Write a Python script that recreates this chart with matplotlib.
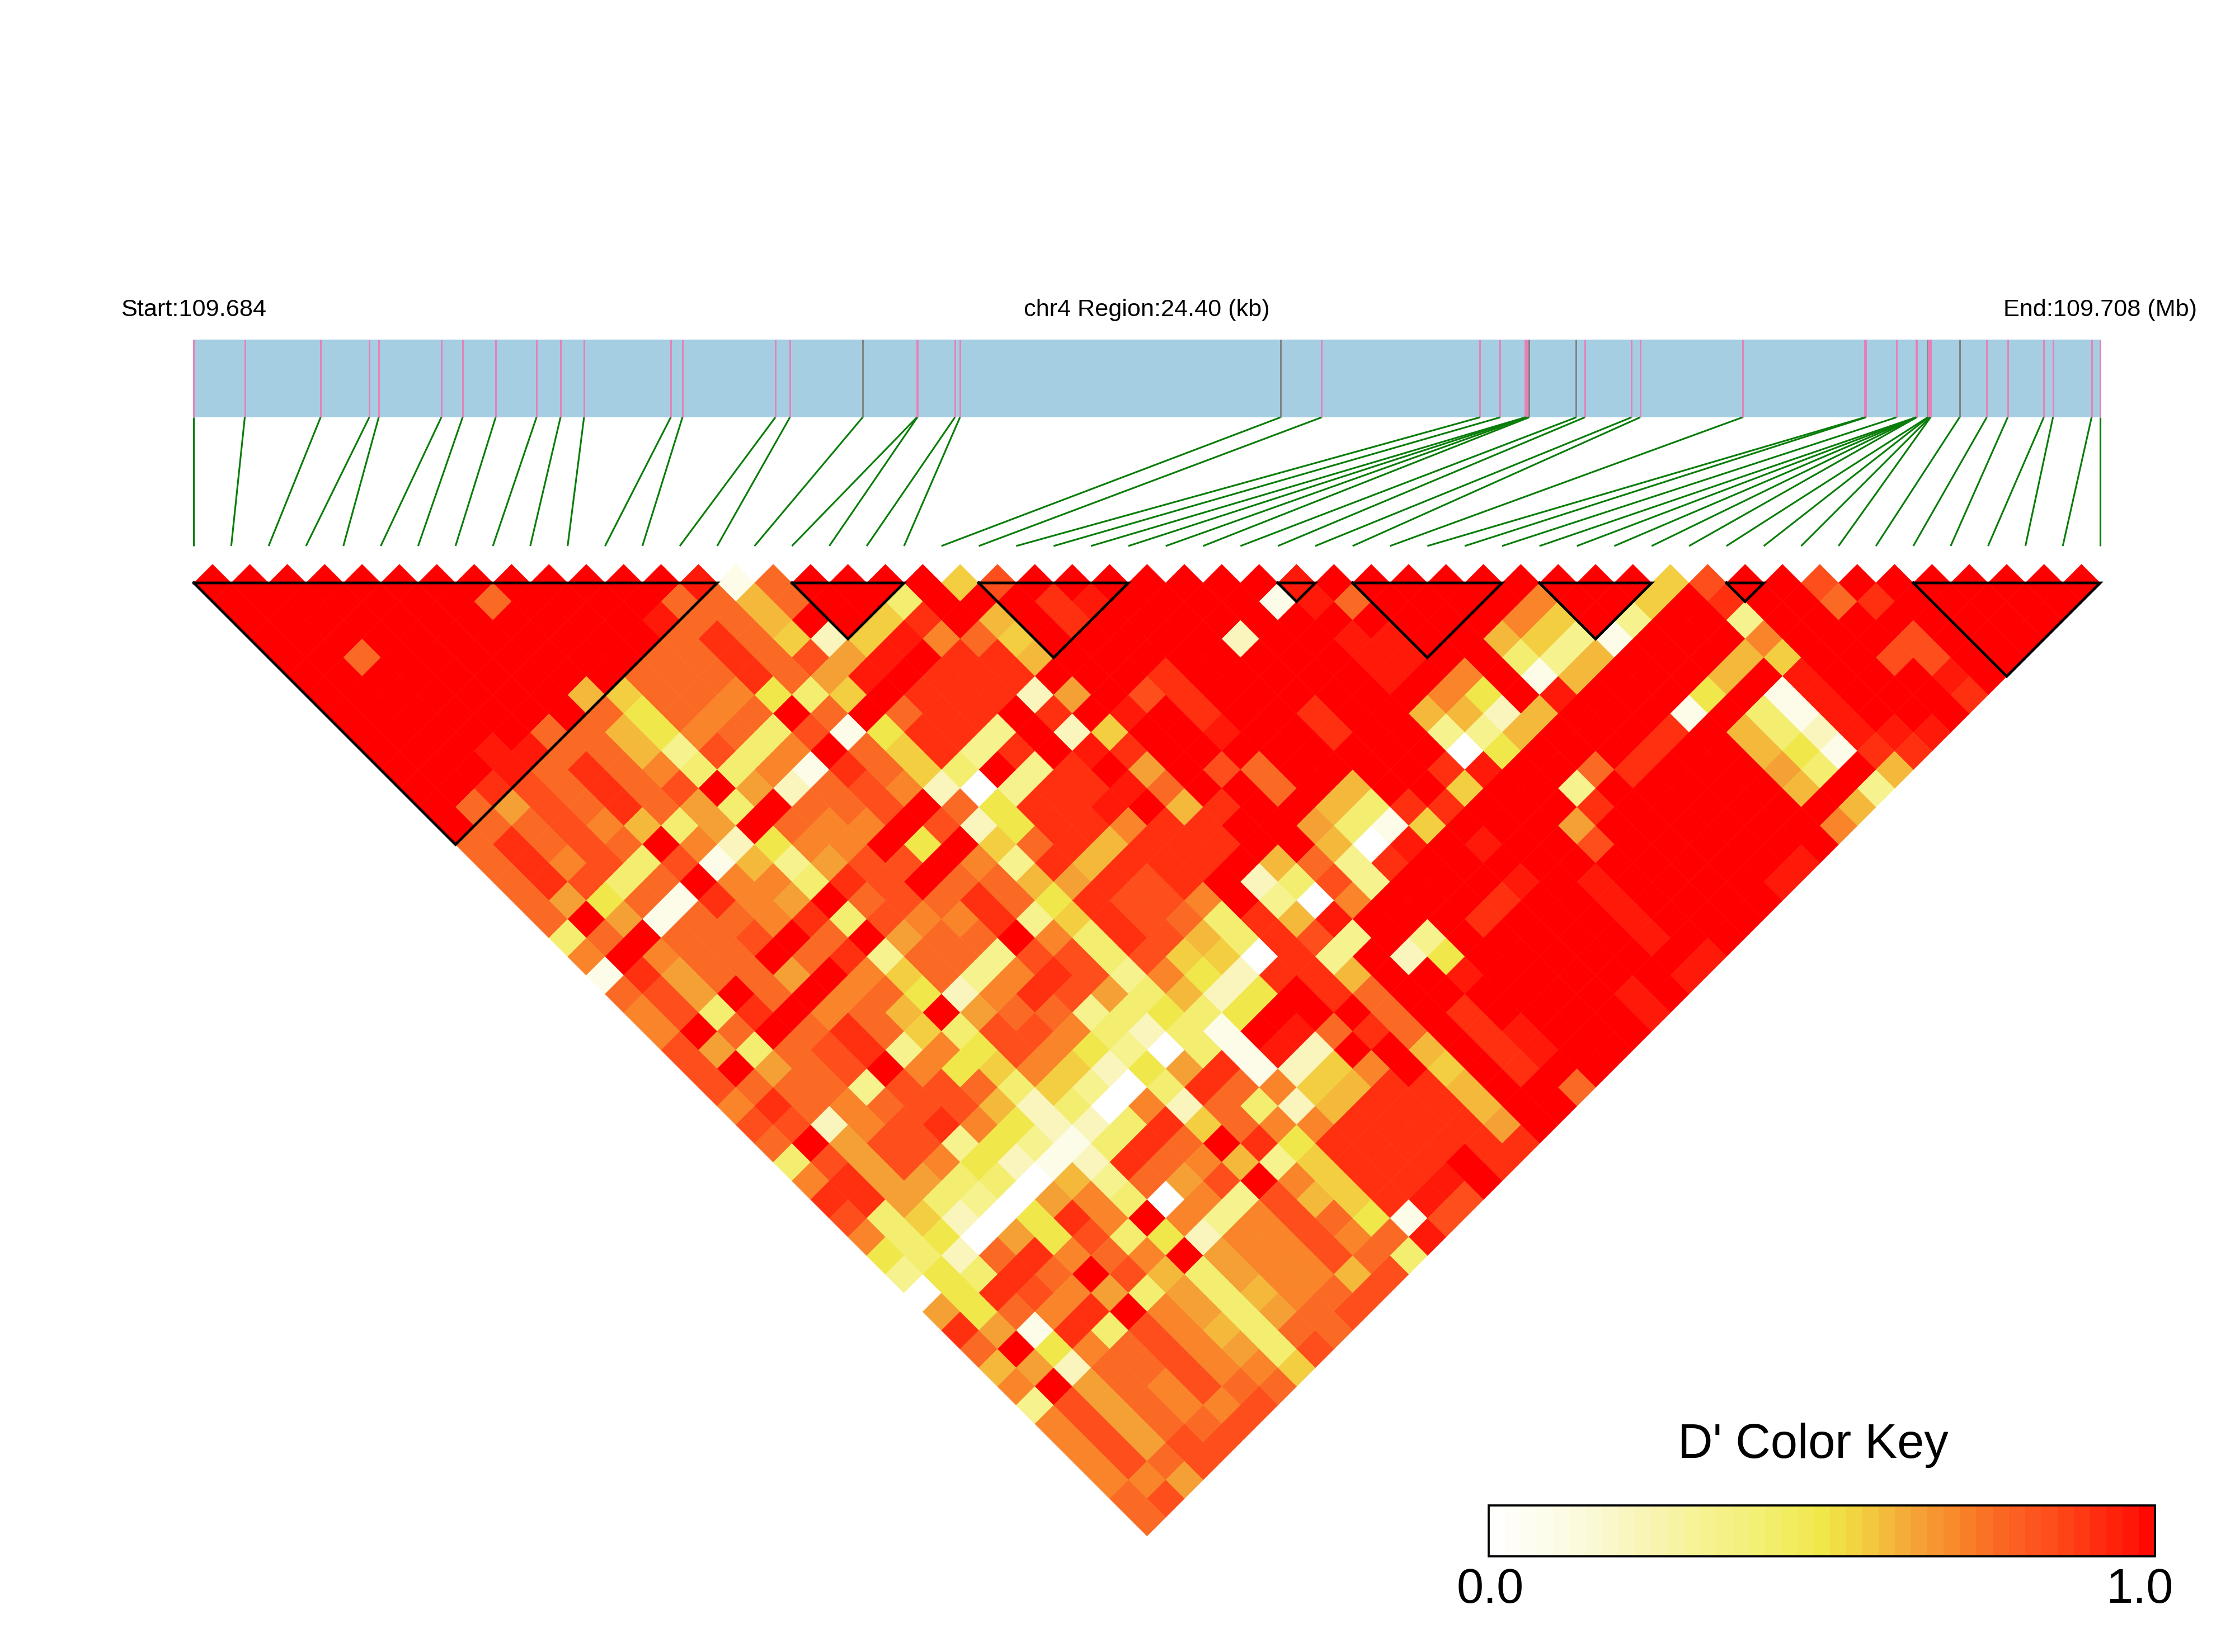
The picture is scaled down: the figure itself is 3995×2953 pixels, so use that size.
import matplotlib
matplotlib.use("Agg")
import matplotlib.pyplot as plt
from matplotlib.collections import PolyCollection
from matplotlib.colors import LinearSegmentedColormap
from matplotlib.patches import Rectangle

plt.rcParams['font.family'] = ['Liberation Sans', 'DejaVu Sans']

# SNP positions along the region, kb from the start
snp_pos_kb = [0.0, 0.652, 1.622, 2.245, 2.366, 3.168, 3.44, 3.863, 4.386, 4.693, 4.994,
              6.104, 6.254, 7.443, 7.629, 8.56, 9.254, 9.26, 9.741, 9.806, 13.908, 14.435,
              16.461, 16.72, 17.042, 17.05, 17.066, 17.09, 17.694, 17.803, 18.401, 18.512,
              19.822, 21.386, 21.401, 21.792, 22.042, 22.044, 22.046, 22.048, 22.05, 22.192,
              22.2, 22.221, 22.228, 22.6, 22.948, 23.216, 23.678, 23.796, 24.29, 24.4]
grey_snps = [15, 20, 27, 28, 41, 45]
block_ranges = [(0, 14), (16, 19), (21, 25), (29, 30), (31, 35), (36, 39), (41, 42), (46, 51)]

# D' level of each letter
dprime_levels = dict(R=1.0, r=.96, q=.91, o=.84, n=.76, m=.71, l=.65, k=.60, j=.56, y=.50,
                     g=.42, f=.33, e=.22, d=.10, w=0.0)

# one string per SNP distance (1 = neighbours), left to right
ROW_01 = "RRRRRRRRRRRRR r d n RRRR j o RRRRRRR r RRRRRRRRR j o RR o RRRRRRR"
ROW_02 = "RRRRRRR n RRRR n n k n RR g RRR q r RRRR d r n RRRR m RR j R q RR n q RRRRR"
ROW_03 = "RRRRRRRRRRR r n n k RR j q R k R q RRRRRRRRRRR m j R f RR f RRRRRRRR"
ROW_04 = "RRRRRRRRRR R n q n j e j r m n j RRRRR e RR r r RR k j f d RRR m RRR o RRR"
ROW_05 = "RR n RRRRRRR n n q n o l r R q q k RRRRRRRR r r RR g f k RRR k j RR o o RR"
ROW_06 = "RRRRRRRRR n n n q n l r R q q q RRR q RRRRR r R m R d k RRR k R r RRR r R"
ROW_07 = "RRRRRRR k j n n m y g j R q q q e l R o q RRRRRR m y R r RRR y R d r RRR q"
ROW_08 = "RRRRRRR n y n m n R n R n q q R q R r R q RR q RR k k e k RRR d R g d r RRR"
ROW_09 = "RRRRR n n k y m n g o d y q q f R e j RR r RR q RR f f k RRR q R k g e r r r"
ROW_10 = "RRR r r n n k f o g m R n j q f q R r q RRRRRRRR w y RRR q RR k y d q q"
ROW_11 = "RRR r n q n m g g m d q n j g R f q R l R o n RRRR q r RR n q RRR l g R k"
ROW_12 = "RR q o n q n o R l e n o m e w f q q r n RR n R k RR j RR f RRRRR k R f"
ROW_13 = "R n l o n q n l g R n n o R n y q q r R k q RR k g q q RRR q RRRRRR k"
ROW_14 = "R n n o m k g l R n m m R o e y q q m q q RR l g d j RRR l RRRRRR m"
ROW_15 = "n q n o n R m e y m m R y R j n q k q q q RR k w r R r RR o RRRRRR"
ROW_16 = "n q m o g o d k f l o o R m f q k q q q R k n f q RRRRRRRRRR r"
ROW_17 = "n q o g n R m m g q o R n n k l q o q R e g o f RRR r R r RRRR r"
ROW_18 = "n l y n d q m l R n o n q n y q o o m R f w m RRR q RR r RRRR"
ROW_19 = "n R l d n n m q g o m m q f j q o n g q k r RRR q RRR r RRR"
ROW_20 = "g n R n n o R n R l n n R m g q o k g q o f R f RRRRR r RR"
ROW_21 = "m R m n n R n q f n n f o o g o j j w q f R e y RRRRRR r"
ROW_22 = "d q l n n l R m j n f m q o f m y e q q k RR r RRRRR r"
ROW_23 = "n o l R n R m n y e m q o l g k e y R q n RRRRRR r R"
ROW_24 = "m o g q R m n k R l n n f g y g y RRR n R q RRRR r"
ROW_25 = "m R n R n q n j g o o m g e g d R r n q n R q r RRR"
ROW_26 = "o l g n o q f m y o m y f w g d r e RR k R q r RR"
ROW_27 = "o R l n o R m y j m j e y l q d e j m R j R q RR"
ROW_28 = "o n n n f o o n g j f w g q n m j k q q k RR n"
ROW_29 = "m q n m n o o k e g w m e n g e k q q q k RR"
ROW_30 = "o o e m o q m y e e g q j n m m q q q q l R"
ROW_31 = "n R l o o f y f d g q n R q y q q q q q q"
ROW_32 = "g o l o m y e d e q n m k f j q q q R q"
ROW_33 = "m q l l g g w k f n l o R m j q q r R"
ROW_34 = "q q l g f w l m g w m f o k j q r o"
ROW_35 = "o g j e w y q m R m f m o n y d o"
ROW_36 = "m g y w l y o g y e m m o m n r"
ROW_37 = "y g e n q m n m R l m m o n g"
ROW_38 = "f y g q n R o k g l m m k o"
ROW_39 = "w y q o m l g l g k m n o"
ROW_40 = "l y n m q R m l g l n o"
ROW_41 = "q l d q g o m k g n n"
ROW_42 = "n R y m n o m l g o"
ROW_43 = "k l e n n o m m j"
ROW_44 = "m R l n m o n n"
ROW_45 = "f o l n m m o"
ROW_46 = "m o l n n o"
ROW_47 = "m o l o o"
ROW_48 = "m o n o"
ROW_49 = "m m l"
ROW_50 = "n o"
ROW_51 = "n"

start_label = "Start:109.684"
middle_label = "chr4 Region:24.40 (kb)"
end_label = "End:109.708 (Mb)"
key_title = "D' Color Key"
key_labels = ["0.0", "1.0"]

rows = [ROW_01, ROW_02, ROW_03, ROW_04, ROW_05, ROW_06, ROW_07, ROW_08, ROW_09, ROW_10,
        ROW_11, ROW_12, ROW_13, ROW_14, ROW_15, ROW_16, ROW_17, ROW_18, ROW_19, ROW_20,
        ROW_21, ROW_22, ROW_23, ROW_24, ROW_25, ROW_26, ROW_27, ROW_28, ROW_29, ROW_30,
        ROW_31, ROW_32, ROW_33, ROW_34, ROW_35, ROW_36, ROW_37, ROW_38, ROW_39, ROW_40,
        ROW_41, ROW_42, ROW_43, ROW_44, ROW_45, ROW_46, ROW_47, ROW_48, ROW_49, ROW_50, ROW_51]

# layout (figure pixels)
W, H = 3995, 2953
X0, X1 = 346.5, 3754.0
TOP = 1042.0
BAR_T, BAR_B = 607, 746
LINE_B = 976
KEY_L, KEY_R, KEY_T, KEY_B = 2661, 3852, 2691, 2782
n_snp = len(snp_pos_kb)
S = (X1 - X0) / (n_snp - 1)
H_S = S / 2

cmap = LinearSegmentedColormap.from_list("ld", [
    (0, "#FFFFFF"), (.10, "#FDFCE8"), (.22, "#F9F5BC"), (.33, "#F6F28E"), (.42, "#F3EE70"),
    (.50, "#F0E84A"), (.56, "#F3CE40"), (.60, "#F4B83B"), (.65, "#F5A035"), (.71, "#F98429"),
    (.76, "#FA6A24"), (.84, "#FD4F1C"), (.91, "#FF3010"), (.96, "#FF1A08"), (1, "#FF0000")], N=256)

fig = plt.figure(figsize=(W / 300, H / 300), dpi=300)
ax = fig.add_axes([0, 0, 1, 1])
ax.set_xlim(0, W)
ax.set_ylim(H, 0)
ax.axis("off")

# heat map
polys, vals = [], []
for d, row in enumerate(rows, start=1):
    codes = row.replace(" ", "")
    if len(codes) != n_snp - d:
        raise ValueError(f"row {d}: {len(codes)} != {n_snp - d}")
    for i, c in enumerate(codes):
        cx = X0 + (i + d / 2) * S
        cy = TOP + (d - 1) * H_S
        polys.append([(cx - H_S, cy), (cx, cy - H_S), (cx + H_S, cy), (cx, cy + H_S)])
        vals.append(dprime_levels[c])
pc = PolyCollection(polys, array=vals, cmap=cmap, clim=(0, 1), edgecolors="face", linewidths=0.12, zorder=2)
ax.add_collection(pc)

# LD blocks
for a, b in block_ranges:
    xa, xb = X0 + a * S, X0 + b * S
    ax.plot([xa, xb, (xa + xb) / 2, xa], [TOP, TOP, TOP + (xb - xa) / 2, TOP], color="black",
            lw=1.15, solid_joinstyle="miter", zorder=4)

# gene track
ax.add_patch(Rectangle((X0, BAR_T), X1 - X0, BAR_B - BAR_T, facecolor="#A6CEE3", edgecolor="none", zorder=1))
span = snp_pos_kb[-1] - snp_pos_kb[0]
for i, p in enumerate(snp_pos_kb):
    xp = X0 + (p - snp_pos_kb[0]) / span * (X1 - X0)
    ax.plot([xp, xp], [BAR_T, BAR_B], color="#808080" if i in grey_snps else "#E681B8",
            lw=0.7, solid_capstyle="butt", zorder=2)
    ax.plot([xp, X0 + i * S], [BAR_B, LINE_B], color="#0A7D0A", lw=0.75, solid_capstyle="butt", zorder=2)

# header text
fs = 10.4
ax.text(X0, 554, start_label, ha="center", va="center", fontsize=fs)
ax.text((X0 + X1) / 2, 554, middle_label, ha="center", va="center", fontsize=fs)
ax.text(X1, 554, end_label, ha="center", va="center", fontsize=fs)

# colour key
n_key = 41
step = (KEY_R - KEY_L) / n_key
for k in range(n_key):
    ax.add_patch(Rectangle((KEY_L + k * step, KEY_T), step + 0.5, KEY_B - KEY_T,
                           facecolor=cmap((k + 0.5) / n_key), edgecolor="none", zorder=2))
ax.add_patch(Rectangle((KEY_L, KEY_T), KEY_R - KEY_L, KEY_B - KEY_T, fill=False, edgecolor="black", lw=0.9, zorder=3))
ax.text(3241, 2584, key_title, ha="center", va="center", fontsize=20.8)
ax.text(2664, 2843, key_labels[0], ha="center", va="center", fontsize=20.8)
ax.text(3825, 2843, key_labels[1], ha="center", va="center", fontsize=20.8)

fig.savefig("out.png", dpi=300, facecolor="white")
